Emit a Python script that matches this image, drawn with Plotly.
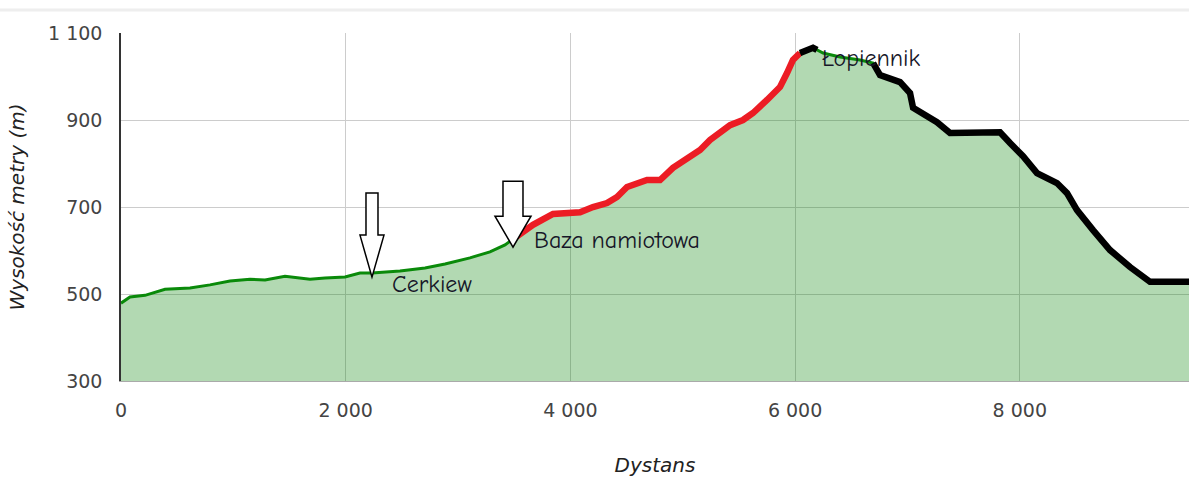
import numpy as np
import plotly.graph_objects as go

# Elevation profile (distance in m, elevation in m)
dist = [0, 80, 214, 392, 614, 792, 970, 1148, 1282, 1460, 1682, 1816, 1994, 2127, 2234,
        2483, 2706, 2884, 3106, 3284, 3418, 3489, 3667, 3845, 4086, 4201, 4326, 4415,
        4504, 4682, 4798, 4913, 5038, 5154, 5243, 5421, 5536, 5625, 5750, 5866, 5928,
        5981, 6044, 6133, 6159, 6195, 6249, 6400, 6578, 6694, 6756, 6934, 7023, 7050,
        7263, 7379, 7557, 7824, 7913, 8029, 8153, 8331, 8420, 8509, 8652, 8803, 8981,
        9159, 9506]
elev = [479, 493, 497, 511, 514, 521, 530, 534, 532, 541, 534, 537, 539, 548, 548,
        553, 560, 569, 583, 597, 613, 626, 659, 684, 688, 700, 709, 723,
        746, 762, 762, 790, 813, 831, 854, 888, 900, 916, 946, 976, 1008,
        1038, 1054, 1061, 1066, 1061, 1054, 1045, 1038, 1031, 1003, 987, 962, 928,
        895, 870, 872, 872, 847, 817, 778, 755, 732, 693, 647, 601, 562,
        528, 528]

# Route segments overlaid (distance ranges)
red_range = (3489, 6044)
black_ranges = [(6044, 6195), (6694, 9506)]

# Points of interest
poi_names = ["Cerkiew", "Baza namiotowa", "Łopiennik"]
poi_dist = [2234, 3489, 6159]

x_ticks = [0, 2000, 4000, 6000, 8000]
x_tick_labels = ["0", "2 000", "4 000", "6 000", "8 000"]
y_ticks = [300, 500, 700, 900, 1100]
y_tick_labels = ["300", "500", "700", "900", "1 100"]

d = np.array(dist)
e = np.array(elev)

fig = go.Figure()
fig.add_trace(go.Scatter(x=dist, y=elev, mode="lines", fill="tozeroy",
                         fillcolor="rgba(0,128,0,0.3)",
                         line=dict(color="#0a8a0a", width=3), hoverinfo="skip"))
m = (d >= red_range[0]) & (d <= red_range[1])
fig.add_trace(go.Scatter(x=d[m], y=e[m], mode="lines",
                         line=dict(color="#ec1c24", width=6.5), hoverinfo="skip"))
for a, b in black_ranges:
    m = (d >= a) & (d <= b)
    fig.add_trace(go.Scatter(x=d[m], y=e[m], mode="lines",
                             line=dict(color="black", width=6.5), hoverinfo="skip"))

def elev_at(x):
    return float(np.interp(x, d, e))

shapes = []
arrow_paths = {
    "Cerkiew": "M0,-4 L-12,38 L-6,38 L-6,80 L6,80 L6,38 L12,38 Z",
    "Baza namiotowa": "M0,-8 L-18,23 L-10,23 L-10,58 L10,58 L10,23 L18,23 Z",
}
for name, xd in zip(poi_names, poi_dist):
    if name in arrow_paths:
        shapes.append(dict(type="path", xref="x", yref="y", xsizemode="pixel", ysizemode="pixel",
                           xanchor=xd, yanchor=elev_at(xd), path=arrow_paths[name],
                           line=dict(color="black", width=1.5), fillcolor="white", layer="above"))
# faint top border line
shapes.append(dict(type="line", xref="paper", yref="paper", x0=-0.12, x1=1, y0=1.066, y1=1.066,
                   line=dict(color="#eeeeee", width=3)))

shifts = {"Cerkiew": (18, -11), "Baza namiotowa": (19, -1), "Łopiennik": (7, -10)}
annotations = []
for name, xd in zip(poi_names, poi_dist):
    sx, sy = shifts[name]
    annotations.append(dict(x=xd, y=elev_at(xd), xref="x", yref="y", text=name, showarrow=False,
                            xanchor="left", yanchor="middle", xshift=sx, yshift=sy,
                            font=dict(family="Comic Sans MS, Comic Neue, Noto Sans", size=24,
                                      color="#161628")))

fig.update_layout(
    width=1189, height=479,
    margin=dict(l=121, r=0, t=33, b=98),
    paper_bgcolor="white", plot_bgcolor="white",
    showlegend=False,
    shapes=shapes, annotations=annotations,
    font=dict(family="DejaVu Sans, Verdana, sans-serif"),
)
fig.update_xaxes(range=[0, 9506], tickvals=x_ticks, ticktext=x_tick_labels,
                 showgrid=True, gridcolor="#cccccc", gridwidth=1, zeroline=False,
                 showline=True, linecolor="#aaaaaa", linewidth=1,
                 tickfont=dict(size=19, color="#444444"), ticks="", ticklabelstandoff=12,
                 title=dict(text="<i>Dystans</i>", font=dict(size=20, color="#222222"), standoff=38))
fig.update_yaxes(range=[300, 1100], tickvals=y_ticks, ticktext=y_tick_labels,
                 showgrid=True, gridcolor="#cccccc", gridwidth=1, zeroline=False,
                 showline=True, linecolor="#333333", linewidth=1.5,
                 tickfont=dict(size=19, color="#444444"), ticks="", ticklabelstandoff=13,
                 title=dict(text="<i>Wysokość metry (m)</i>", font=dict(size=20, color="#222222"), standoff=18))

fig.write_html("out.html", config={"displayModeBar": False},
               post_script="document.body.style.margin='0';document.body.style.overflow='hidden';")
